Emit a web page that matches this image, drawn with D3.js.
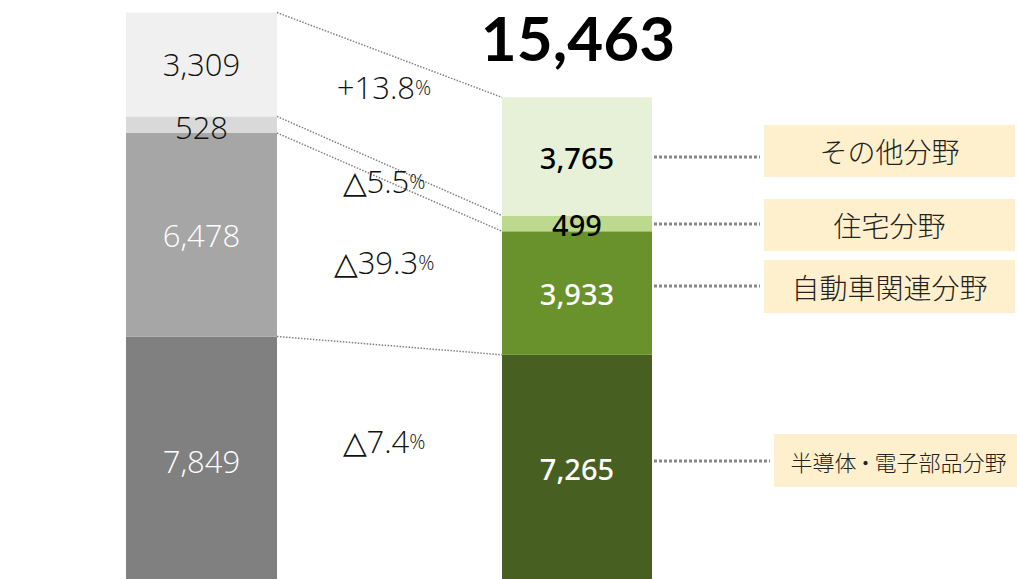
<!DOCTYPE html>
<html>
<head>
<meta charset="utf-8">
<script src="https://cdn.jsdelivr.net/npm/d3@7"></script>
<style>
  body { margin: 0; background: #fff; }
  svg { display: block; }
</style>
</head>
<body>
<svg width="1017" height="579"></svg>
<script>
var width = 1017;
var height = 579;

// segments, bottom to top
var categories = ["半導体・電子部品分野", "自動車関連分野", "住宅分野", "その他分野"];
var prevValues = [7849, 6478, 528, 3309];
var currValues = [7265, 3933, 499, 3765];
var changes = ["△7.4", "△39.3", "△5.5", "+13.8"];
var total = "15,463";

var prevColors = ["#808080", "#a6a6a6", "#d9d9d9", "#f0f0f0"];
var prevText = ["#fff", "#fff", "#111", "#111"];
var currColors = ["#475f20", "#6a922c", "#bcd98d", "#e7f1d8"];
var currText = ["#fff", "#fff", "#000", "#000"];

var svg = d3.select("svg");

var prevTotal = d3.sum(prevValues);
var y = d3.scaleLinear().domain([0, prevTotal]).range([583, 12.5]);

var bw = 151;
var xPrev = 126, xCurr = 502;

function stack(vals) {
  var acc = 0;
  return vals.map(function(v, i) {
    var s = { i: i, v: v, y0: acc, y1: acc + v };
    acc += v;
    return s;
  });
}
var ps = stack(prevValues);
var cs = stack(currValues);

var fmt = d3.format(",");

// dotted connectors between the segment tops
svg.append("g").selectAll("line").data(ps).join("line")
  .attr("x1", xPrev + bw).attr("x2", xCurr)
  .attr("y1", function(d) { return y(d.y1); })
  .attr("y2", function(d) { return y(cs[d.i].y1); })
  .attr("stroke", "#808080")
  .attr("stroke-width", 1.5)
  .attr("stroke-dasharray", "1.5 1.5");

// prev bar
svg.append("g").selectAll("rect").data(ps).join("rect")
  .attr("x", xPrev).attr("width", bw)
  .attr("y", function(d) { return y(d.y1); })
  .attr("height", function(d) { return y(d.y0) - y(d.y1); })
  .attr("fill", function(d) { return prevColors[d.i]; });

svg.append("g").selectAll("text").data(ps).join("text")
  .attr("x", xPrev + bw / 2)
  .attr("y", function(d) { return d.i === 2 ? 127 : (y(d.y0) + y(d.y1)) / 2 + (d.i === 0 ? 1 : 0); })
  .attr("text-anchor", "middle")
  .attr("dominant-baseline", "central")
  .attr("font-family", "'Open Sans', 'Noto Sans', sans-serif")
  .attr("font-weight", 300)
  .attr("font-size", 31)
  .attr("fill", function(d) { return prevText[d.i]; })
  .text(function(d) { return fmt(d.v); });

// curr bar
svg.append("g").selectAll("rect").data(cs).join("rect")
  .attr("x", xCurr).attr("width", 150)
  .attr("y", function(d) { return y(d.y1); })
  .attr("height", function(d) { return y(d.y0) - y(d.y1); })
  .attr("fill", function(d) { return currColors[d.i]; });

var currLabelY = [468, 293, 224, 157];
svg.append("g").selectAll("text").data(cs).join("text")
  .attr("x", xCurr + 75)
  .attr("y", function(d) { return currLabelY[d.i]; })
  .attr("text-anchor", "middle")
  .attr("dominant-baseline", "central")
  .attr("font-family", "'Noto Sans', 'Open Sans', sans-serif")
  .attr("font-weight", 500)
  .attr("font-size", 29)
  .attr("fill", function(d) { return currText[d.i]; })
  .text(function(d) { return fmt(d.v); });

// total
svg.append("text")
  .attr("x", 578).attr("y", 61)
  .attr("text-anchor", "middle")
  .attr("font-family", "Lato, 'Open Sans', sans-serif")
  .attr("font-weight", 700)
  .attr("font-size", 62)
  .attr("fill", "#000")
  .text(total);

// change labels
var changeY = [441, 262, 181, 87];
var cg = svg.append("g").selectAll("text").data(changes).join("text")
  .attr("x", 384)
  .attr("y", function(d, i) { return changeY[i]; })
  .attr("text-anchor", "middle")
  .attr("dominant-baseline", "central")
  .attr("font-family", "'Open Sans', 'Noto Sans', sans-serif")
  .attr("font-weight", 300)
  .attr("font-size", 31)
  .attr("fill", "#111");
cg.append("tspan").text(function(d) { return d; });
cg.append("tspan").attr("font-size", 20).text("%");

// category labels with leaders
var boxes = [
  { x: 774, y: 434, w: 243, h: 53, fs: 22 },
  { x: 764, y: 260, w: 251, h: 53, fs: 28 },
  { x: 764, y: 199, w: 251, h: 52, fs: 28 },
  { x: 764, y: 125, w: 251, h: 52, fs: 28 }
];
var leadY = [461, 286, 224, 157];

svg.append("g").selectAll("line").data(categories).join("line")
  .attr("x1", 654)
  .attr("x2", function(d, i) { return boxes[i].x - 4; })
  .attr("y1", function(d, i) { return leadY[i]; })
  .attr("y2", function(d, i) { return leadY[i]; })
  .attr("stroke", "#888")
  .attr("stroke-width", 3)
  .attr("stroke-dasharray", "3 2");

var lg = svg.append("g").selectAll("g").data(categories).join("g");
lg.append("rect")
  .attr("x", function(d, i) { return boxes[i].x; })
  .attr("y", function(d, i) { return boxes[i].y; })
  .attr("width", function(d, i) { return boxes[i].w; })
  .attr("height", function(d, i) { return boxes[i].h; })
  .attr("fill", "#fff0cd");
var lt = lg.append("text")
  .attr("x", function(d, i) { return boxes[i].x + boxes[i].w / 2 + (i === 0 ? 3 : 0); })
  .attr("y", function(d, i) { return boxes[i].y + boxes[i].h / 2; })
  .attr("text-anchor", "middle")
  .attr("dominant-baseline", "central")
  .attr("font-family", "'Noto Sans CJK JP', sans-serif")
  .attr("font-weight", 300)
  .attr("font-size", function(d, i) { return boxes[i].fs; })
  .attr("fill", "#222");
// split on the middle dot so it can sit a little tighter, as in the original
lt.each(function(d) {
  var parts = d.split("・");
  var t = d3.select(this);
  if (parts.length === 1) { t.text(d); return; }
  t.append("tspan").text(parts[0]);
  t.append("tspan").attr("dx", -2).text("・");
  t.append("tspan").attr("dx", -2).text(parts[1]);
});
</script>
</body>
</html>
